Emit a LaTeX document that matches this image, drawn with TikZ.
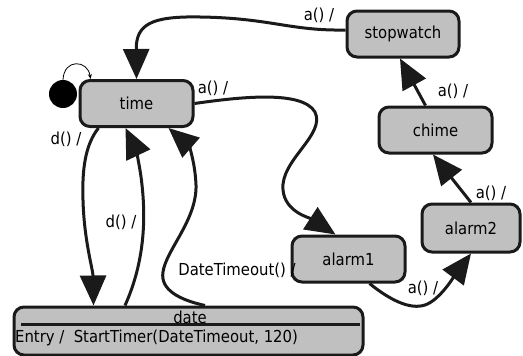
\documentclass[tikz,border=0pt]{standalone}
\usepackage{fontspec}
\setmainfont{DejaVu Sans Condensed}
\usetikzlibrary{arrows.meta,calc}
\definecolor{stategray}{HTML}{C0C0C0}
\definecolor{ink}{HTML}{1A1A1A}
\begin{document}
\begin{tikzpicture}[x=1pt,y=-1pt,
  every node/.style={font=\fontsize{16.5}{19}\selectfont, inner sep=0pt},
  state/.style={draw=ink, fill=stategray, line width=3pt, rounded corners=10pt,
    minimum height=46pt},
  trans/.style={draw=ink, line width=3pt, -{Triangle[length=30pt,width=26pt]}},
  lbl/.style={text=black}]
\useasboundingbox (0,0) rectangle (523,356);

% states
\node[state, minimum width=113pt] (time) at (136.5,103.5) {time};
\node[state, minimum width=112pt] (stopwatch) at (403,34) {stopwatch};
\node[state, minimum width=113pt] (chime) at (435.5,130) {chime};
\node[state, minimum width=98pt, minimum height=48pt] (alarm2) at (471,228) {alarm2};
\node[state, minimum width=113pt] (alarm1) at (348.5,259) {alarm1};
\node[state, minimum width=349pt, minimum height=48pt] (date) at (188.5,331) {};
\draw[ink, line width=3pt] ($(date.north west)+(8,19)$) -- ($(date.north east)+(-5,19)$);
\node (datename) at (190,317) {date};
\node[anchor=west] (dateentry) at (15,338) {Entry /\ \ StartTimer(DateTimeout, 120)};

% initial pseudostate
\node[circle, fill=black, minimum size=28pt] (init) at (63,94) {};
\draw[black, line width=0.8pt, -{Stealth[length=5pt,width=4pt]}]
  (init.north) .. controls (64,58) and (88,60) .. ([xshift=12]time.north west);

% transitions
\draw[trans] ([yshift=4]stopwatch.west) .. controls (290,31) and (270,18) .. (200,17)
  .. controls (150,16) and (136,25) .. (time.north);
\draw[trans] (time.east) .. controls (240,97) and (302,90) .. (315,112)
  .. controls (326,135) and (280,160) .. (283,190)
  .. controls (285,212) and (310,218) .. ([xshift=-13]alarm1.north);
\draw[trans] ([xshift=20]time.south west) .. controls (85,145) and (82,170) .. (83,200)
  .. controls (84,240) and (93,270) .. ([xshift=81]date.north west);
\draw[trans] ([xshift=-63.5]date.north) .. controls (141,270) and (147,230) .. (142,185)
  .. controls (140,165) and (135,148) .. ([xshift=-11]time.south);
\draw[trans] ([xshift=16.5]date.north) .. controls (180,300) and (160,290) .. (163,272)
  .. controls (166,250) and (197,220) .. (196,185)
  .. controls (195,160) and (188,145) .. ([xshift=32]time.south);
\draw[trans] ([xshift=21]alarm1.south) .. controls (390,300) and (410,310) .. (425,305)
  .. controls (440,300) and (455,275) .. (alarm2.south);
\draw[trans] (alarm2.north) -- ([xshift=-2.5]chime.south);
\draw[trans] ([xshift=-10]chime.north) -- ([xshift=-3]stopwatch.south);

% transition labels
\node[lbl] (l1) at (319,15) {a() /};
\node[lbl] (l2) at (213,88) {a() /};
\node[lbl] (l3) at (66,139) {d() /};
\node[lbl] (l4) at (121,222) {d() /};
\node[lbl] (l5) at (237,270) {DateTimeout() /};
\node[lbl] (l6) at (423,288) {a() /};
\node[lbl] (l7) at (491,193) {a() /};
\node[lbl] (l8) at (453,91) {a() /};
\end{tikzpicture}
\end{document}
